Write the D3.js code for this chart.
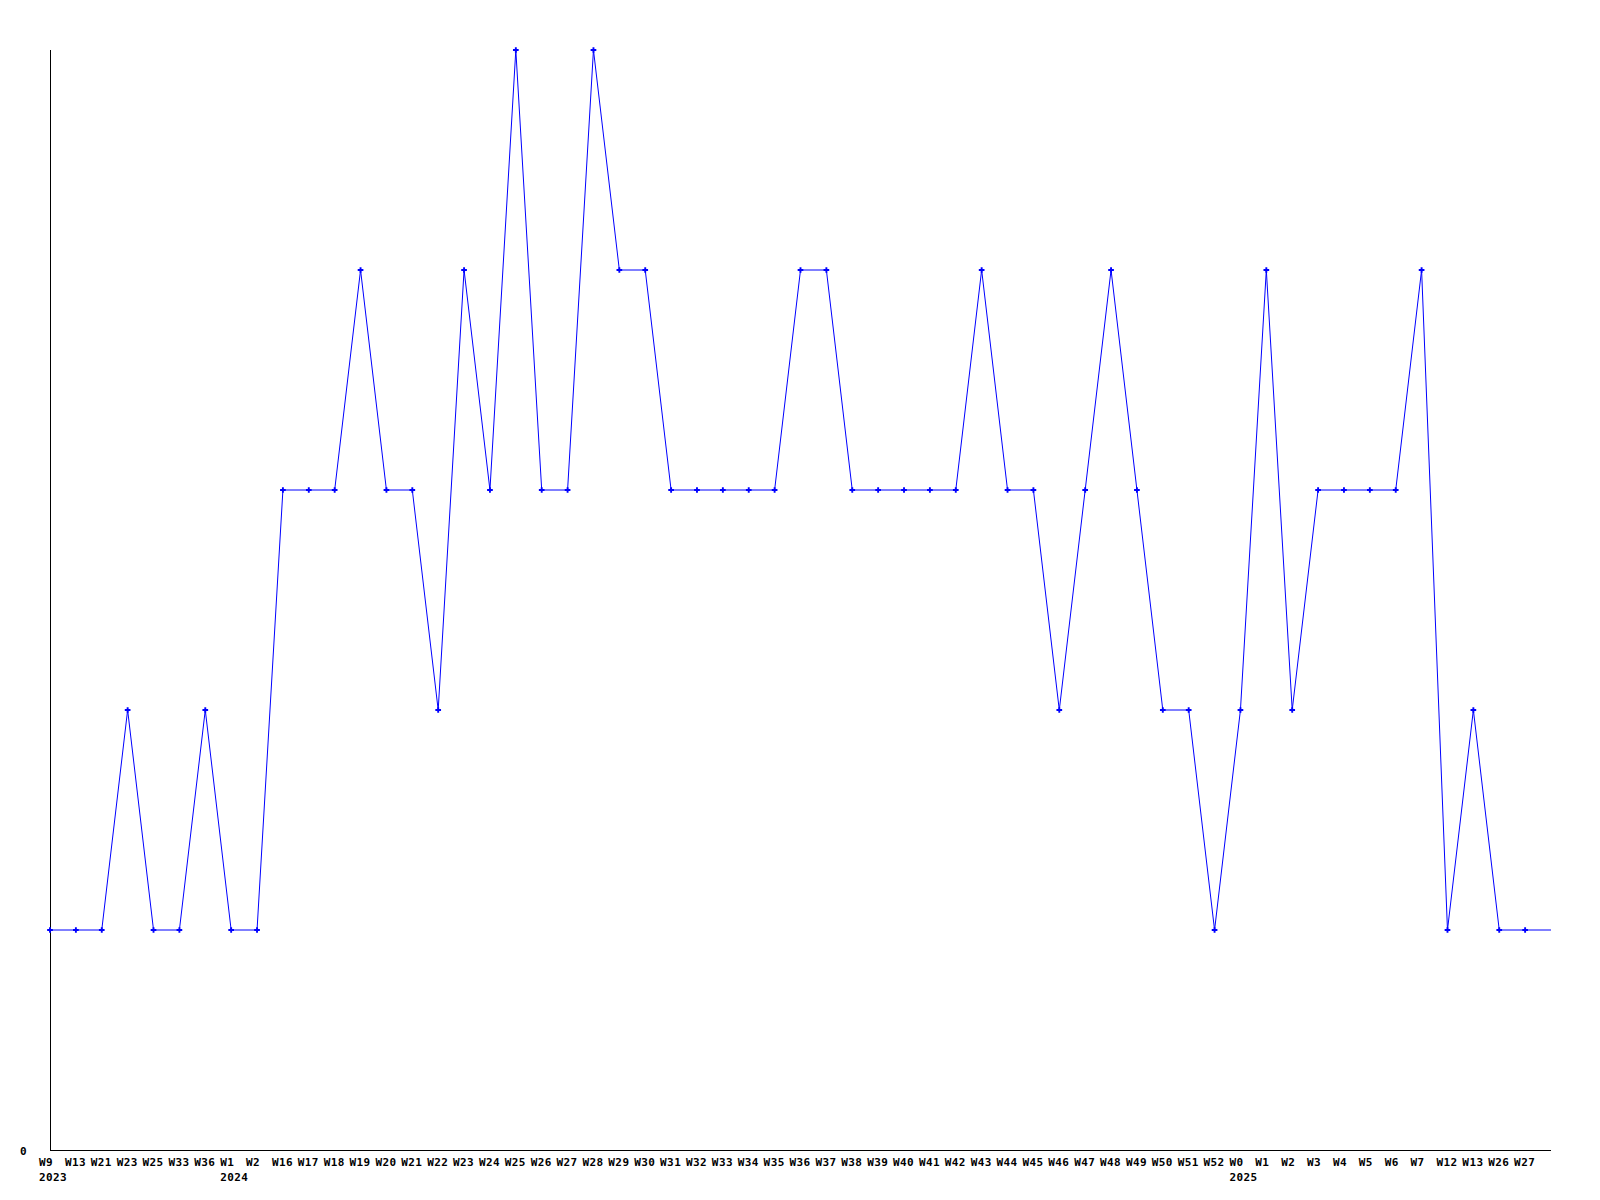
<!DOCTYPE html>
<html>
<head>
<meta charset="utf-8">
<script src="https://cdn.jsdelivr.net/npm/d3@7"></script>
<style>
  body { margin: 0; background: #fff; }
  svg text { font-family: "DejaVu Sans Mono", monospace; font-weight: bold; font-size: 11px; letter-spacing: 0.4px; fill: #000; }
</style>
</head>
<body>
<svg width="1600" height="1200"></svg>
<script>
// Week labels along the x axis (left to right)
const weeks = ["W9","W13","W21","W23","W25","W33","W36",
  "W1","W2","W16","W17","W18","W19","W20","W21","W22","W23","W24","W25","W26","W27","W28","W29","W30",
  "W31","W32","W33","W34","W35","W36","W37","W38","W39","W40","W41","W42","W43","W44","W45","W46",
  "W47","W48","W49","W50","W51","W52",
  "W0","W1","W2","W3","W4","W5","W6","W7","W12","W13","W26","W27"];

// Year markers: index of the first week of each year
const years = [{i: 0, label: "2023"}, {i: 7, label: "2024"}, {i: 46, label: "2025"}];

// Values per week
const counts = [1,1,1,2,1,1,2,
  1,1,3,3,3,4,3,3,2,4,3,5,3,3,5,4,4,
  3,3,3,3,3,4,4,3,3,3,3,3,4,3,3,2,
  3,4,3,2,2,1,
  2,4,2,3,3,3,3,4,1,2,1,1];

const yTicks = [0];

const svg = d3.select("svg"),
      margin = {top: 50, right: 49, bottom: 50, left: 50},
      width = +svg.attr("width"),
      height = +svg.attr("height");

// one extra slot on the right, the line runs on to the edge
const x = d3.scaleLinear()
    .domain([0, weeks.length])
    .range([margin.left, width - margin.right]);

const y = d3.scaleLinear()
    .domain([0, 5])
    .range([height - margin.bottom, margin.top]);

const data = counts.map((v, i) => ({i: i, v: v}));

// axes lines
svg.append("line")
    .attr("x1", x(0)).attr("x2", x(0))
    .attr("y1", y(5)).attr("y2", y(0))
    .attr("stroke", "#000").attr("shape-rendering", "crispEdges");

svg.append("line")
    .attr("x1", x(0)).attr("x2", x(weeks.length))
    .attr("y1", y(0)).attr("y2", y(0))
    .attr("stroke", "#000").attr("shape-rendering", "crispEdges");

// y label
svg.selectAll(".ytick")
    .data(yTicks)
    .enter().append("text")
    .attr("x", x(0) - 30)
    .attr("y", d => y(d) + 4.5)
    .text(d => d);

// x labels
svg.selectAll(".xtick")
    .data(weeks)
    .enter().append("text")
    .attr("x", (d, i) => x(i) - 11)
    .attr("y", y(0) + 16)
    .text(d => d);

svg.selectAll(".year")
    .data(years)
    .enter().append("text")
    .attr("x", d => x(d.i) - 11)
    .attr("y", y(0) + 31)
    .text(d => d.label);

// line, continued flat to the end of the axis
const line = d3.line()
    .x(d => x(d.i))
    .y(d => y(d.v));

svg.append("path")
    .datum(data.concat([{i: weeks.length, v: counts[counts.length - 1]}]))
    .attr("fill", "none")
    .attr("stroke", "#0000ff")
    .attr("stroke-width", 1)
    .attr("d", line);

// point markers
svg.selectAll(".pt")
    .data(data)
    .enter().append("path")
    .attr("transform", d => `translate(${x(d.i)},${y(d.v)})`)
    .attr("d", d3.symbol().type(d3.symbolCross).size(18))
    .attr("fill", "#0000ff");
</script>
</body>
</html>
